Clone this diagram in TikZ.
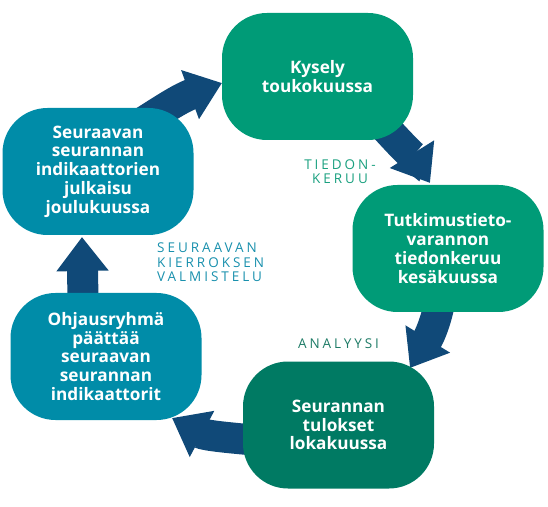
\documentclass[tikz,border=0pt]{standalone}
\usepackage{fontspec}
\setmainfont{Open Sans}
\newfontfamily\lblfont{Open Sans}[LetterSpace=22]
\usetikzlibrary{arrows.meta,backgrounds}
\definecolor{grn}{HTML}{009B77}
\definecolor{dgrn}{HTML}{007A63}
\definecolor{tealb}{HTML}{008CA8}
\definecolor{navy}{HTML}{104978}
\definecolor{lgrn}{HTML}{1AA07F}
\definecolor{lteal}{HTML}{1990AD}
\definecolor{ldgrn}{HTML}{1E7B66}
\tikzset{
  box/.style={rounded corners=45pt, minimum width=191pt, minimum height=127pt,
    inner sep=0pt, align=center, text=white,
    font=\fontsize{17.2}{18.8}\selectfont\bfseries},
  flow/.style={navy, line width=31pt, -{Triangle[length=34pt,width=50pt]}},
  lbl/.style={inner sep=0pt, font=\fontsize{13.5}{14.5}\selectfont\lblfont}
}
\begin{document}
\begin{tikzpicture}[x=1pt,y=1pt]
\useasboundingbox (0,0) rectangle (548,506);
\node[box, fill=grn] (kys) at (317.5,429.5) {Kysely\\toukokuussa};
\node[box, fill=grn] (tut) at (448,257.5) {Tutkimustieto-\\varannon\\tiedonkeruu\\kesäkuussa};
\node[box, fill=dgrn] (tul) at (338.5,81) {Seurannan\\tulokset\\lokakuussa};
\node[box, fill=tealb] (ohj) at (106,149.5) {Ohjausryhmä\\päättää\\seuraavan\\seurannan\\indikaattorit};
\node[box, fill=tealb] (jul) at (98,334.5) {Seuraavan\\seurannan\\indikaattorien\\julkaisu\\joulukuussa};
\node[lbl, text=lgrn, align=center] (tied) at (340,334.5) {TIEDON-\\KERUU};
\node[lbl, text=ldgrn] (ana) at (338.5,162) {ANALYYSI};
\node[lbl, text=lteal, align=left, anchor=west] (valm) at (157,243.5) {SEURAAVAN\\KIERROKSEN\\VALMISTELU};
\coordinate (a1s) at (115,366);
\coordinate (a1e) at (222,423);
\coordinate (a2s) at (383,381);
\coordinate (a2e) at (430,323);
\coordinate (a3s) at (440,206);
\coordinate (a3e) at (410,138);
\coordinate (a4s) at (265,65);
\coordinate (a4e) at (172,88);
\coordinate (a5s) at (83,206);
\coordinate (a5e) at (82,269);
\begin{scope}[on background layer]
\draw[flow] (a1s) to[out=32,in=200] (a1e);
\draw[flow] (a2s) to[out=-48,in=122] (a2e);
\draw[flow] (a3s) to[out=-100,in=58.5] (a3e);
\draw[flow] (a4s) to[out=175,in=-28] (a4e);
\draw[flow] (a5s) -- (a5e);
\end{scope}
\end{tikzpicture}
\end{document}
